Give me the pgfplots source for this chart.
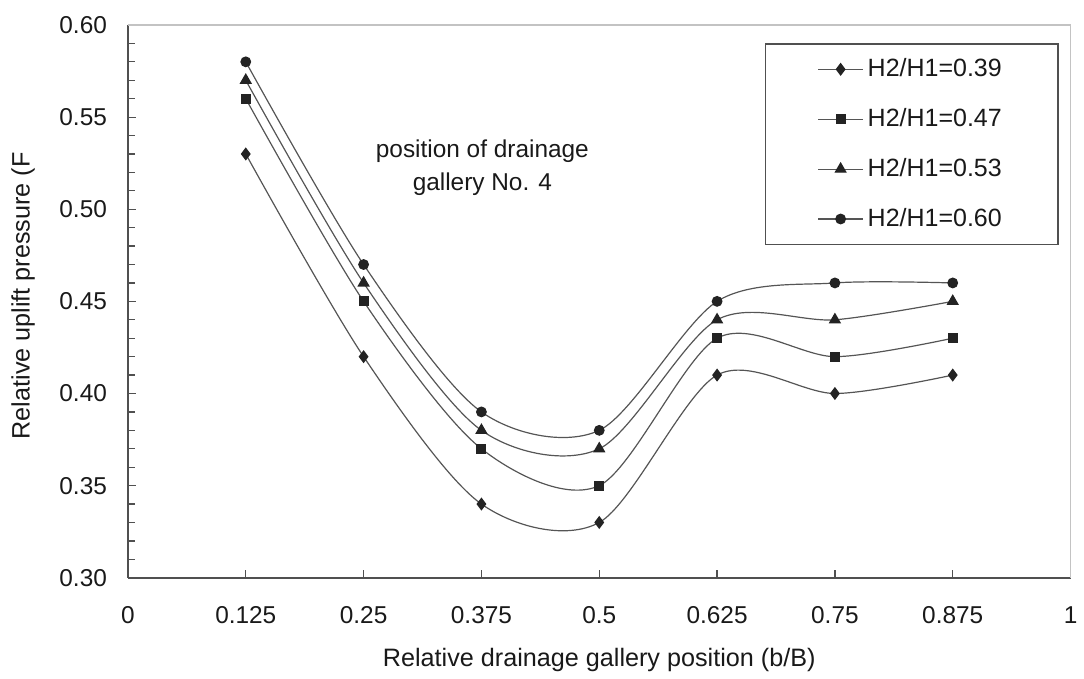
\documentclass[border=0pt]{standalone}
\usepackage{pgfplots}
\pgfplotsset{compat=1.18}
\usepackage{fontspec}
\setmainfont{Liberation Sans}
\definecolor{axisdark}{RGB}{80,80,80}
\definecolor{framelight}{RGB}{195,195,195}
\definecolor{linegray}{RGB}{85,85,85}
\definecolor{markdark}{RGB}{35,35,35}
\definecolor{textc}{RGB}{25,25,25}
\begin{document}
\begin{tikzpicture}
\begin{axis}[
  name=ax,
  scale only axis,
  width=471.5pt, height=276.5pt,
  xmin=0, xmax=1, ymin=0.30, ymax=0.60,
  axis lines*=left,
  axis line style={axisdark, -, line width=0.8pt},
  tick align=inside,
  xtick={0,0.125,0.25,0.375,0.5,0.625,0.75,0.875,1},
  xticklabels={0,0.125,0.25,0.375,0.5,0.625,0.75,0.875,1},
  ytick={0.30,0.35,0.40,0.45,0.50,0.55,0.60},
  minor y tick num=4,
  major tick length=4pt, minor tick length=3.5pt,
  tick style={axisdark, line width=0.6pt},
  /pgf/number format/assume math mode=true,
  yticklabel style={/pgf/number format/.cd, fixed, fixed zerofill, precision=2, /tikz/.cd, xshift=-7pt},
  xticklabel style={yshift=-11pt},
  ticklabel style={font=\fontsize{12.2}{14}\selectfont, text=textc},
  label style={font=\fontsize{12.6}{15}\selectfont, text=textc},
  xlabel={Relative drainage gallery position (b/B)},
  ylabel={Relative uplift pressure (F},
  xlabel style={at={(axis description cs:0.5,-0.148)}, anchor=center},
  ylabel style={at={(axis description cs:-0.1113,0.51)}, anchor=center},
  legend style={at={(axis description cs:1,1)}, anchor=north east, xshift=-6pt, yshift=-9pt,
    draw=axisdark, line width=0.8pt, fill=white, inner xsep=26pt, inner ysep=5.5pt,
    row sep=10.4pt, font=\fontsize{12.5}{15}\selectfont, text=textc},
  legend cell align=left,
  legend image code/.code={\draw[mark repeat=2,mark phase=2] plot coordinates {(0pt,0pt) (11.25pt,0pt) (22.5pt,0pt)};},
  clip=false,
]
\draw[framelight, line width=0.8pt] (rel axis cs:0,1) -- (rel axis cs:1,1) -- (rel axis cs:1,0);
\addplot[linegray, line width=0.6pt, smooth, mark=diamond*, mark size=2.8pt, mark options={draw=markdark, fill=markdark}]
  coordinates {(0.125,0.53) (0.25,0.42) (0.375,0.34) (0.5,0.33) (0.625,0.41) (0.75,0.40) (0.875,0.41)};
\addlegendentry{H2/H1=0.39}
\addplot[linegray, line width=0.6pt, smooth, mark=square*, mark size=2.2pt, mark options={draw=markdark, fill=markdark}]
  coordinates {(0.125,0.56) (0.25,0.45) (0.375,0.37) (0.5,0.35) (0.625,0.43) (0.75,0.42) (0.875,0.43)};
\addlegendentry{H2/H1=0.47}
\addplot[linegray, line width=0.6pt, smooth, mark=triangle*, mark size=3pt, mark options={draw=markdark, fill=markdark}]
  coordinates {(0.125,0.57) (0.25,0.46) (0.375,0.38) (0.5,0.37) (0.625,0.44) (0.75,0.44) (0.875,0.45)};
\addlegendentry{H2/H1=0.53}
\addplot[linegray, line width=0.6pt, smooth, mark=*, mark size=2.4pt, mark options={draw=markdark, fill=markdark}]
  coordinates {(0.125,0.58) (0.25,0.47) (0.375,0.39) (0.5,0.38) (0.625,0.45) (0.75,0.46) (0.875,0.46)};
\addlegendentry{H2/H1=0.60}
\node[align=center, font=\fontsize{12.2}{16.5}\selectfont, text=textc] at (axis cs:0.376,0.5226) {position of drainage\\gallery No. 4};
\end{axis}
\path ([shift={(-64pt,-50.5pt)}]ax.south west) rectangle ([shift={(6.5pt,12.5pt)}]ax.north east);
\end{tikzpicture}
\end{document}
